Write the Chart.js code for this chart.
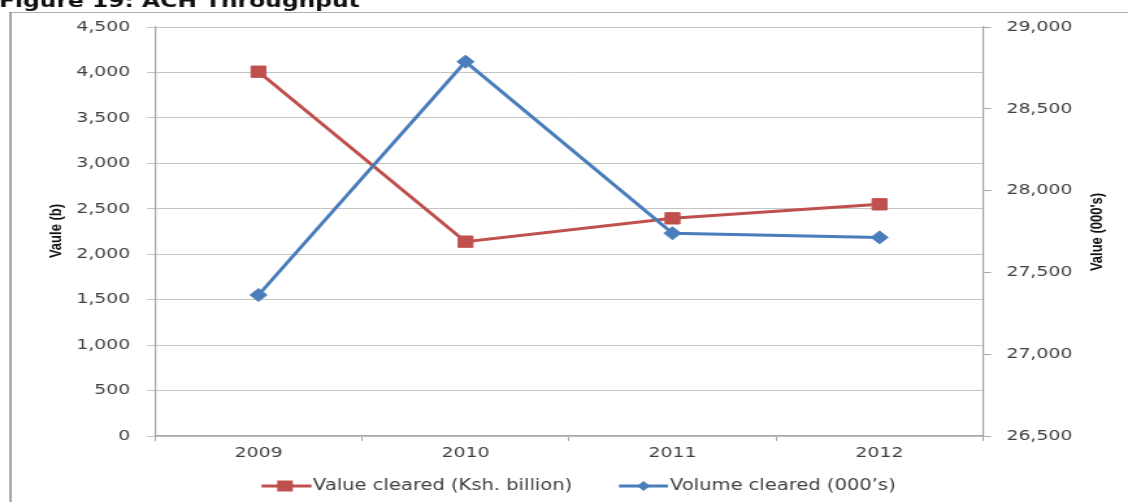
<!DOCTYPE html>
<html>
<head>
<meta charset="utf-8">
<script src="https://cdn.jsdelivr.net/npm/chart.js"></script>
<style>
  html, body { margin: 0; padding: 0; background: #fff; overflow: hidden; }
  /* the source picture is stretched sideways, so the whole chart is too */
  #wrap { position: absolute; left: 0; top: 0; width: 868px; height: 502px;
          transform: scaleX(1.29954); transform-origin: 0 0; }
</style>
</head>
<body>
<div id="wrap"><canvas id="achChart"></canvas></div>
<script>
const years = ['2009', '2010', '2011', '2012']
const valueCleared = [4008, 2138, 2395, 2549]      // Ksh. billion
const volumeCleared = [27362, 28788, 27739, 27714] // 000's
const leftTicks = [0, 500, 1000, 1500, 2000, 2500, 3000, 3500, 4000, 4500]
const rightTicks = [26500, 27000, 27500, 28000, 28500, 29000]

const SX = 1128 / 868
const px = x => x / SX   // page x -> canvas x
const TXT = '#404040'
const RED = '#C0504D'
const BLUE = '#4A7EBB'

const fmt = v => Number(v).toLocaleString('en-US')

// frame, title and axis titles
const decor = {
  id: 'decor',
  beforeDraw(chart) {
    const ctx = chart.ctx
    ctx.save()
    ctx.fillStyle = '#fff'
    ctx.fillRect(0, 0, chart.width, chart.height)
    ctx.fillStyle = '#b0b0b0'
    ctx.fillRect(px(9), 12, chart.width, 1)
    ctx.fillStyle = '#8a8a8a'
    ctx.fillRect(px(9.5), 12, px(2), chart.height)

    ctx.fillStyle = '#111'
    ctx.font = 'bold 18px "DejaVu Sans"'
    ctx.textBaseline = 'alphabetic'
    ctx.fillText('Figure 19: ACH Throughput', px(-1), 6.5)

    ctx.font = 'bold 13px "Liberation Sans", Arial, sans-serif'
    ctx.textAlign = 'center'
    ctx.textBaseline = 'middle'
    ctx.translate(px(57), 231)
    ctx.rotate(-Math.PI / 2)
    ctx.fillText('Vaule (b)', 0, 0)
    ctx.restore()

    ctx.save()
    ctx.fillStyle = '#111'
    ctx.font = 'bold 13px "Liberation Sans", Arial, sans-serif'
    ctx.textAlign = 'center'
    ctx.textBaseline = 'middle'
    ctx.translate(px(1097), 232)
    ctx.rotate(-Math.PI / 2)
    ctx.fillText("Value (000's)", 0, 0)
    ctx.restore()
  },
  afterDraw(chart) {
    // legend: line with marker, like the office chart
    const ctx = chart.ctx
    const y = 486
    const items = [
      {x1: 261.5, x2: 311.5, mx: 285, tx: 313, ds: chart.data.datasets[1]},
      {x1: 619, x2: 668, mx: 643.5, tx: 670, ds: chart.data.datasets[0]}
    ]
    ctx.save()
    items.forEach(it => {
      ctx.strokeStyle = it.ds.borderColor
      ctx.fillStyle = it.ds.borderColor
      ctx.lineWidth = 3
      ctx.beginPath()
      ctx.moveTo(px(it.x1), y)
      ctx.lineTo(px(it.x2), y)
      ctx.stroke()
      const mx = px(it.mx)
      if (it.ds.pointStyle === 'rect') {
        ctx.fillRect(mx - 6, y - 5.5, 12, 11)
      } else {
        ctx.beginPath()
        ctx.moveTo(mx - 5, y)
        ctx.lineTo(mx, y - 5)
        ctx.lineTo(mx + 5, y)
        ctx.lineTo(mx, y + 5)
        ctx.closePath()
        ctx.fill()
      }
      ctx.fillStyle = TXT
      ctx.font = '15px "DejaVu Sans"'
      ctx.textBaseline = 'middle'
      ctx.fillText(it.ds.label, px(it.tx), y)
    })
    ctx.restore()
  }
}

var ctxA = document.getElementById('achChart').getContext('2d')

var achChart = new Chart(ctxA, {
  type: 'line',
  data: {
    labels: years,
    datasets: [{
      label: 'Volume cleared (000’s)',
      data: volumeCleared,
      yAxisID: 'y1',
      borderColor: BLUE,
      backgroundColor: BLUE,
      borderWidth: 3,
      pointStyle: 'rectRot',
      pointRadius: 6.5,
      pointBorderWidth: 1,
      tension: 0,
      order: 0
    }, {
      label: 'Value cleared (Ksh. billion)',
      data: valueCleared,
      yAxisID: 'y',
      borderColor: RED,
      backgroundColor: RED,
      borderWidth: 3,
      pointStyle: 'rect',
      pointRadius: 8,
      pointBorderWidth: 1,
      tension: 0,
      order: 1
    }]
  },
  options: {
    responsive: true,
    maintainAspectRatio: false,
    animation: false,
    layout: { padding: { top: 27, bottom: 36, left: 0, right: 0 } },
    plugins: {
      legend: { display: false },
      tooltip: { enabled: false }
    },
    scales: {
      x: {
        offset: true,
        grid: { offset: true, drawOnChartArea: false, color: '#a6a6a6', tickLength: 5 },
        border: { color: '#a6a6a6', width: 1.2 },
        ticks: { color: TXT, font: { family: 'DejaVu Sans', size: 14.5 }, padding: 4, maxRotation: 0 },
        afterFit: s => { s.height = 30 }
      },
      y: {
        position: 'left',
        min: 0,
        max: 4500,
        grid: { color: '#c4c4c4', tickLength: 6 },
        border: { color: '#a6a6a6', width: 1.2 },
        ticks: { color: TXT, font: { family: 'DejaVu Sans', size: 14.5 }, padding: 13, callback: v => fmt(v) },
        afterBuildTicks: s => { s.ticks = leftTicks.map(v => ({ value: v })) },
        afterFit: s => { s.width = px(155) }
      },
      y1: {
        position: 'right',
        min: 26500,
        max: 29000,
        grid: { drawOnChartArea: false, color: '#a6a6a6', tickLength: 6 },
        border: { color: '#a6a6a6', width: 1.2 },
        ticks: { color: TXT, font: { family: 'DejaVu Sans', size: 14.5 }, padding: 12, callback: v => fmt(v) },
        afterBuildTicks: s => { s.ticks = rightTicks.map(v => ({ value: v })) },
        afterFit: s => { s.width = 868 - px(983) }
      }
    }
  },
  plugins: [decor]
});
</script>
</body>
</html>
